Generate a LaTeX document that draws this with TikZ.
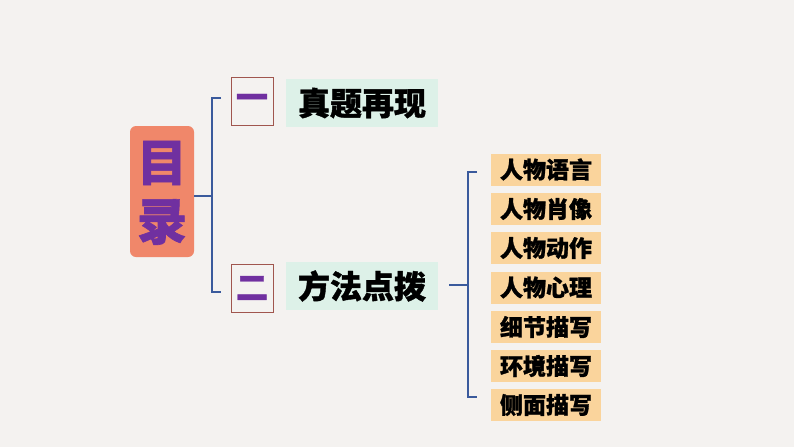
\documentclass[tikz,border=0pt]{standalone}
\usepackage{fontspec}
\newfontfamily\cjk{Noto Sans CJK SC}
\newfontfamily\cjkh{Noto Sans CJK SC}[FakeBold=1.2]
\definecolor{bgc}{HTML}{F4F2F0}
\definecolor{salmon}{HTML}{F0876A}
\definecolor{purp}{HTML}{7030A0}
\definecolor{brk}{HTML}{3A5A9C}
\definecolor{mint}{HTML}{DDF1E8}
\definecolor{peach}{HTML}{FAD49C}
\definecolor{numb}{HTML}{A0564E}
\tikzset{
  titlebox/.style={fill=salmon, rounded corners=6pt, minimum width=64pt, minimum height=131pt, inner sep=0pt},
  titletext/.style={text=purp, font=\cjkh\bfseries\fontsize{50}{50}\selectfont},
  numbox/.style={draw=numb, line width=0.6pt, fill=none, minimum width=42pt, minimum height=48pt, inner sep=0pt, text=purp, font=\cjkh\bfseries\fontsize{32}{32}\selectfont},
  headbox/.style={fill=mint, minimum width=152pt, minimum height=48pt, inner sep=0pt, font=\cjkh\bfseries\fontsize{32}{32}\selectfont},
  itembox/.style={fill=peach, minimum width=110pt, minimum height=32pt, inner sep=0pt, font=\cjkh\bfseries\fontsize{23}{23}\selectfont},
  brace/.style={draw=brk, line width=1.4pt}
}
\begin{document}
\begin{tikzpicture}[x=1pt,y=-1pt]
\fill[bgc] (0,0) rectangle (794,447);
\useasboundingbox (0,0) rectangle (794,447);
% title
\node[titlebox] (title) at (162,191.5) {};
\node[titletext] (mu) at (162,163) {目};
\node[titletext] (lu) at (162,222) {录};
% first brace
\coordinate (b1t) at (212,98);
\coordinate (b1b) at (212,292);
\coordinate (b1m) at (212,196);
\coordinate (b1te) at (221,98);
\coordinate (b1be) at (221,292);
\draw[brace] (b1te) -- (b1t) -- (b1b) -- (b1be);
\draw[brace] (title.east |- b1m) -- (b1m);
% numbers
\node[numbox] (n1) at (252,101.5) {一};
\node[numbox] (n2) at (252,288) {二};
\node[headbox] (h1) at (362,103) {真题再现};
\node[headbox] (h2) at (362,286) {方法点拨};
% second brace
\coordinate (b2t) at (468,172);
\coordinate (b2b) at (468,397);
\coordinate (b2m) at (468,285);
\coordinate (b2te) at (477,172);
\coordinate (b2be) at (477,397);
\coordinate (b2s) at (449,285);
\draw[brace] (b2te) -- (b2t) -- (b2b) -- (b2be);
\draw[brace] (b2s) -- (b2m);
% items
\node[itembox] (i1) at (546,169.5) {人物语言};
\node[itembox] (i2) at (546,209) {人物肖像};
\node[itembox] (i3) at (546,248) {人物动作};
\node[itembox] (i4) at (546,287.5) {人物心理};
\node[itembox] (i5) at (546,327) {细节描写};
\node[itembox] (i6) at (546,366) {环境描写};
\node[itembox] (i7) at (546,405) {侧面描写};
\end{tikzpicture}
\end{document}
